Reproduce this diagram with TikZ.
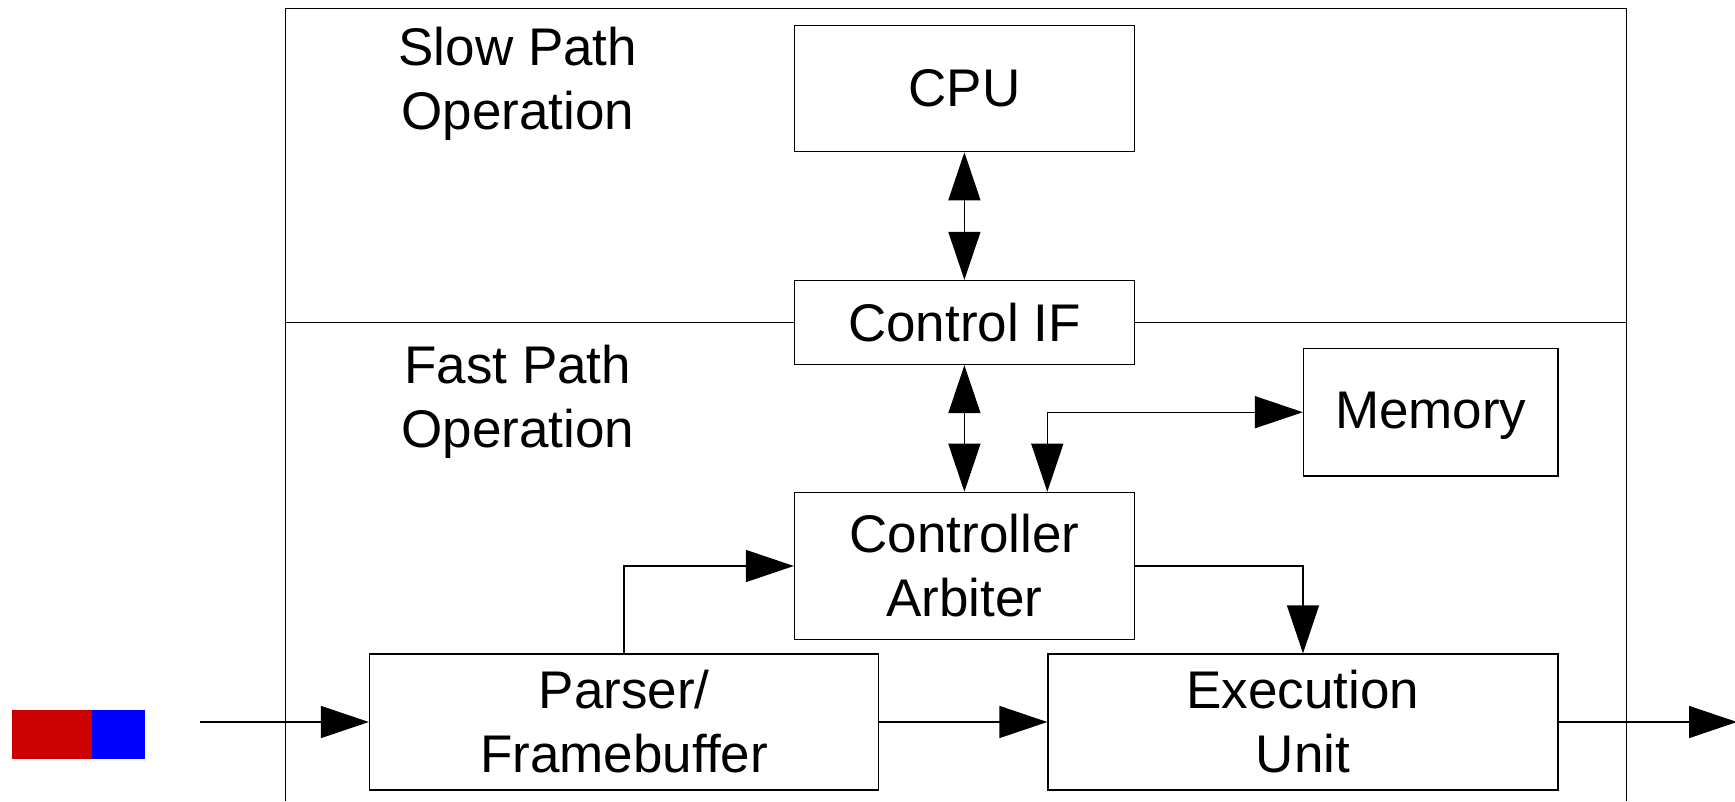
\documentclass[tikz,border=0pt]{standalone}
\usepackage{fontspec}
\setmainfont{Liberation Sans}
\usetikzlibrary{arrows.meta,calc}
\definecolor{pktred}{HTML}{CC0000}
\definecolor{pktblue}{HTML}{0000FF}
\begin{document}
\begin{tikzpicture}[x=1pt,y=-1pt,
  txt/.style={font=\fontsize{53}{64}\selectfont, align=center, inner sep=0pt},
  blk/.style={draw, line width=1.4pt, txt, minimum width=339.7pt},
  conn/.style={line width=1.4pt, -{Triangle[length=48pt,width=32pt]}},
  bconn/.style={line width=1.4pt, {Triangle[length=48pt,width=32pt]}-{Triangle[length=48pt,width=32pt]}}]
\useasboundingbox (0,0) rectangle (1735,801);
% outer frame
\draw[line width=1.4pt] (285.5,801) -- (285.5,8.5) -- (1626.6,8.5) -- (1626.6,801);
% boxes
\node[blk, minimum height=126.2pt] (cpu) at (964.4,88.5) {CPU};
\node[blk, minimum height=84pt] (ctrlif) at (964.4,322.5) {Control IF};
\node[blk, minimum width=254.5pt, minimum height=127.2pt, text depth=4pt] (mem) at (1430.8,412.2) {Memory};
\node[blk, minimum height=147.2pt] (arb) at (964.4,566) {Controller\\Arbiter};
\node[blk, minimum width=509pt, minimum height=136pt] (parser) at (624.1,722) {Parser/\\Framebuffer};
\node[blk, minimum width=510pt, minimum height=136pt] (exec) at (1303,722) {Execution\\Unit};
% labels
\node[txt] (slow) at (517.8,84) {Slow Path\\Operation};
\node[txt] (fast) at (517.8,401.5) {Fast Path\\Operation};
% divider
\coordinate (divl) at (285.5,322.5);
\coordinate (divr) at (1626.6,322.5);
\draw[line width=1.4pt] (divl) -- (ctrlif.west);
\draw[line width=1.4pt] (ctrlif.east) -- (divr);
% packet
\fill[pktred] (12,710) rectangle (91.5,758.5);
\fill[pktblue] (91.5,710) rectangle (144.5,758.5);
% connectors
\coordinate (in) at (200,722);
\coordinate (out) at (1737,722);
\coordinate (memdrop) at (arb.north -| exec.west);
\draw[bconn] (cpu.south) -- (ctrlif.north);
\draw[bconn] (ctrlif.south) -- (arb.north);
\draw[bconn] (memdrop) |- (mem.west);
\draw[conn] (parser.north) |- (arb.west);
\draw[conn] (arb.east) -| (exec.north);
\draw[conn] (parser.east) -- (exec.west);
\draw[conn] (in) -- (parser.west);
\draw[conn] (exec.east) -- (out);
\end{tikzpicture}
\end{document}
